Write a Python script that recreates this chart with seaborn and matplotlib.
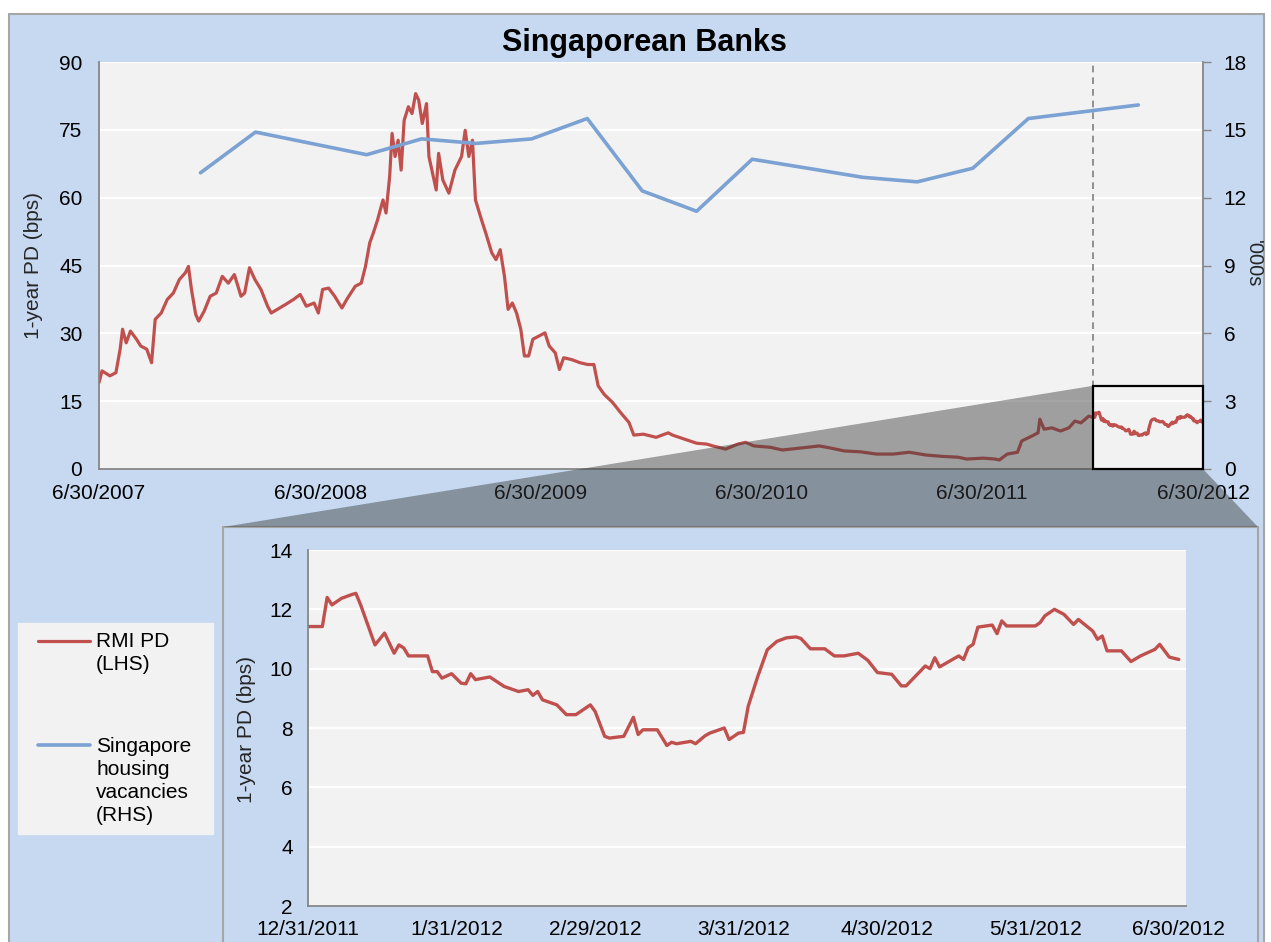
import matplotlib

matplotlib.use("Agg")
import matplotlib.dates as mdates   # noqa: E402
import matplotlib.pyplot as plt     # noqa: E402
import numpy as np                  # noqa: E402
import pandas as pd                 # noqa: E402
import seaborn as sns               # noqa: E402
from matplotlib.legend_handler import HandlerLine2D   # noqa: E402
from matplotlib.patches import Polygon, Rectangle     # noqa: E402

# ---------------------------------------------------------------------------
# Data
# ---------------------------------------------------------------------------

# RMI 1-year PD, bps -- Jun 2007 .. Dec 2011 (main panel)
rmi_dates = [
    "2007-06-30", "2007-07-05", "2007-07-18", "2007-07-28", "2007-08-04", "2007-08-08",
    "2007-08-14", "2007-08-21", "2007-08-31", "2007-09-07", "2007-09-17", "2007-09-25",
    "2007-10-01", "2007-10-11", "2007-10-21", "2007-10-31", "2007-11-10", "2007-11-20",
    "2007-11-25", "2007-11-30", "2007-12-07", "2007-12-12", "2007-12-21", "2007-12-31",
    "2008-01-10", "2008-01-20", "2008-01-30", "2008-02-09", "2008-02-20", "2008-02-26",
    "2008-03-05", "2008-03-14", "2008-03-24", "2008-04-04", "2008-04-10", "2008-04-20",
    "2008-05-04", "2008-05-17", "2008-05-28", "2008-06-07", "2008-06-20", "2008-06-27",
    "2008-07-04", "2008-07-14", "2008-07-24", "2008-08-05", "2008-08-13", "2008-08-27",
    "2008-09-06", "2008-09-13", "2008-09-20", "2008-09-26", "2008-10-03", "2008-10-12",
    "2008-10-17", "2008-10-23", "2008-10-27", "2008-11-01", "2008-11-06", "2008-11-11",
    "2008-11-16", "2008-11-23", "2008-11-29", "2008-12-05", "2008-12-10", "2008-12-16",
    "2008-12-23", "2008-12-27", "2009-01-02", "2009-01-08", "2009-01-12", "2009-01-19",
    "2009-01-29", "2009-02-08", "2009-02-19", "2009-02-25", "2009-03-03", "2009-03-09",
    "2009-03-14", "2009-03-24", "2009-03-31", "2009-04-10", "2009-04-17", "2009-04-24",
    "2009-05-01", "2009-05-07", "2009-05-14", "2009-05-21", "2009-05-28", "2009-06-03",
    "2009-06-10", "2009-06-17", "2009-06-27", "2009-07-07", "2009-07-14", "2009-07-24",
    "2009-07-31", "2009-08-07", "2009-08-20", "2009-09-03", "2009-09-16", "2009-09-26",
    "2009-10-03", "2009-10-13", "2009-10-27", "2009-11-09", "2009-11-23", "2009-12-01",
    "2009-12-17", "2010-01-07", "2010-01-27", "2010-02-03", "2010-02-23", "2010-03-15",
    "2010-04-01", "2010-04-11", "2010-05-02", "2010-05-22", "2010-06-04", "2010-06-18",
    "2010-07-15", "2010-08-04", "2010-08-25", "2010-09-21", "2010-10-04", "2010-10-24",
    "2010-11-14", "2010-12-11", "2011-01-07", "2011-02-03", "2011-03-02", "2011-03-29",
    "2011-04-25", "2011-05-22", "2011-06-05", "2011-07-02", "2011-07-22", "2011-07-29",
    "2011-08-11", "2011-08-28", "2011-09-04", "2011-09-21", "2011-10-01", "2011-10-04",
    "2011-10-11", "2011-10-24", "2011-11-07", "2011-11-21", "2011-12-01", "2011-12-11",
    "2011-12-24",
]
rmi_values = [
    19.1, 21.7, 20.6, 21.3, 26.5, 30.9,
    27.9, 30.5, 28.7, 27.2, 26.5, 23.5,
    33.1, 34.5, 37.5, 38.9, 41.9, 43.4,
    44.8, 39.7, 34.2, 32.7, 34.9, 38.2,
    38.9, 42.6, 41.1, 43.0, 38.2, 38.9,
    44.5, 41.9, 39.7, 36.0, 34.5, 35.3,
    36.4, 37.5, 38.6, 36.0, 36.7, 34.5,
    39.7, 40.0, 38.2, 35.6, 37.5, 40.4,
    41.1, 44.8, 50.0, 52.2, 55.1, 59.5,
    56.6, 64.7, 74.2, 69.1, 72.7, 66.1,
    77.1, 80.1, 78.6, 83.0, 81.6, 76.4,
    80.8, 69.1, 65.4, 61.7, 69.8, 63.9,
    61.0, 66.1, 69.1, 74.9, 69.1, 72.7,
    59.5, 55.1, 52.2, 47.8, 46.3, 48.5,
    42.6, 35.3, 36.7, 34.5, 30.9, 25.0,
    25.0, 28.7, 29.4, 30.1, 27.2, 25.7,
    22.0, 24.6, 24.2, 23.5, 23.1, 23.1,
    18.4, 16.5, 14.7, 12.5, 10.3, 7.5,
    7.7, 7.0, 8.0, 7.5, 6.6, 5.7,
    5.5, 5.1, 4.4, 5.5, 5.9, 5.1,
    4.8, 4.2, 4.5, 4.9, 5.1, 4.6,
    4.0, 3.8, 3.3, 3.3, 3.7, 3.1,
    2.8, 2.6, 2.2, 2.4, 2.2, 2.0,
    3.3, 3.7, 6.2, 7.3, 8.0, 11.0,
    8.8, 9.1, 8.4, 9.1, 10.6, 10.2,
    11.7,
]

# RMI 1-year PD, bps -- Dec 2011 .. Jun 2012 (zoomed panel)
zoom_dates = [
    "2011-12-31", "2012-01-03", "2012-01-04", "2012-01-05", "2012-01-07", "2012-01-09",
    "2012-01-10", "2012-01-11", "2012-01-14", "2012-01-16", "2012-01-18", "2012-01-19",
    "2012-01-20", "2012-01-21", "2012-01-25", "2012-01-26", "2012-01-27", "2012-01-28",
    "2012-01-30", "2012-02-01", "2012-02-02", "2012-02-03", "2012-02-04", "2012-02-07",
    "2012-02-10", "2012-02-13", "2012-02-15", "2012-02-16", "2012-02-17", "2012-02-18",
    "2012-02-21", "2012-02-23", "2012-02-25", "2012-02-28", "2012-02-29", "2012-03-02",
    "2012-03-03", "2012-03-06", "2012-03-08", "2012-03-09", "2012-03-10", "2012-03-13",
    "2012-03-15", "2012-03-16", "2012-03-17", "2012-03-20", "2012-03-21", "2012-03-23",
    "2012-03-24", "2012-03-27", "2012-03-28", "2012-03-30", "2012-03-31", "2012-04-01",
    "2012-04-03", "2012-04-05", "2012-04-07", "2012-04-09", "2012-04-11", "2012-04-12",
    "2012-04-14", "2012-04-17", "2012-04-19", "2012-04-21", "2012-04-24", "2012-04-26",
    "2012-04-28", "2012-05-01", "2012-05-03", "2012-05-04", "2012-05-07", "2012-05-08",
    "2012-05-09", "2012-05-10", "2012-05-11", "2012-05-15", "2012-05-16", "2012-05-17",
    "2012-05-18", "2012-05-19", "2012-05-22", "2012-05-23", "2012-05-24", "2012-05-25",
    "2012-05-31", "2012-06-01", "2012-06-02", "2012-06-04", "2012-06-06", "2012-06-08",
    "2012-06-09", "2012-06-12", "2012-06-13", "2012-06-14", "2012-06-15", "2012-06-18",
    "2012-06-20", "2012-06-22", "2012-06-25", "2012-06-26", "2012-06-28", "2012-06-30",
]
zoom_values = [
    11.42, 11.42, 12.40, 12.15, 12.37, 12.49,
    12.54, 12.15, 10.80, 11.20, 10.52, 10.80,
    10.70, 10.43, 10.43, 9.90, 9.90, 9.68,
    9.83, 9.51, 9.49, 9.83, 9.63, 9.72,
    9.40, 9.23, 9.29, 9.10, 9.23, 8.95,
    8.78, 8.45, 8.45, 8.78, 8.56, 7.72,
    7.66, 7.72, 8.36, 7.78, 7.94, 7.94,
    7.41, 7.52, 7.47, 7.55, 7.47, 7.74,
    7.83, 8.00, 7.61, 7.83, 7.85, 8.73,
    9.74, 10.64, 10.92, 11.04, 11.07, 11.02,
    10.67, 10.67, 10.43, 10.43, 10.52, 10.28,
    9.87, 9.81, 9.42, 9.42, 9.92, 10.09,
    10.00, 10.37, 10.06, 10.43, 10.31, 10.71,
    10.82, 11.40, 11.47, 11.18, 11.61, 11.44,
    11.44, 11.55, 11.78, 12.00, 11.83, 11.49,
    11.66, 11.27, 10.99, 11.10, 10.60, 10.60,
    10.24, 10.43, 10.65, 10.82, 10.39, 10.31,
]

# Singapore housing vacancies, '000s (quarterly)
vac_dates = [
    "2007-12-15", "2008-03-15", "2008-06-15", "2008-09-15", "2008-12-15", "2009-03-15",
    "2009-06-15", "2009-09-15", "2009-12-15", "2010-03-15", "2010-06-15", "2010-09-15",
    "2010-12-15", "2011-03-15", "2011-06-15", "2011-09-15", "2011-12-15", "2012-03-15",
]
vac_values = [
    13.1, 14.9, 14.4, 13.9, 14.6, 14.4,
    14.6, 15.5, 12.3, 11.4, 13.7, 13.3,
    12.9, 12.7, 13.3, 15.5, 15.8, 16.1,
]

MAIN_START, MAIN_END = "2007-06-30", "2012-06-30"
ZOOM_START, ZOOM_END = "2011-12-31", "2012-06-30"
ZOOM_BOX_TOP = 18.4          # height of the zoom box on the LHS scale

# ---------------------------------------------------------------------------
# Style
# ---------------------------------------------------------------------------

W, H, DPI = 1271, 942, 100
RED = "#C0504D"
BLUE = "#7BA2D3"
PANEL = "#C6D9F1"
PLOT_BG = "#F2F2F2"
FRAME = "#A6A6A6"
AXIS = "#868686"
FS = 15
LEGEND_LS = 1.27

sns.set_theme(style="white")
plt.rcParams["font.family"] = ["Liberation Sans", "DejaVu Sans"]
plt.rcParams["text.color"] = "black"
plt.rcParams["xtick.color"] = AXIS
plt.rcParams["ytick.color"] = AXIS
plt.rcParams["xtick.labelcolor"] = "black"
plt.rcParams["ytick.labelcolor"] = "black"


def px_rect(x0, y0, x1, y1):
    """Pixel box (origin top-left) -> figure-fraction [l, b, w, h]."""
    return [x0 / W, 1 - y1 / H, (x1 - x0) / W, (y1 - y0) / H]


def mdy(d):
    return f"{d.month}/{d.day}/{d.year}"


class FirstLineHandler(HandlerLine2D):
    """Legend line aligned with the first line of a multi-line label."""

    def __init__(self, nlines, **kw):
        super().__init__(**kw)
        self.nlines = nlines

    def create_artists(self, legend, orig_handle, xdescent, ydescent,
                       width, height, fontsize, trans):
        arts = super().create_artists(legend, orig_handle, xdescent, ydescent,
                                      width, height, fontsize, trans)
        shift = (self.nlines - 1) / 2 * 1.1 * (LEGEND_LS / 1.2) * fontsize
        for a in arts:
            n = len(a.get_xdata())
            a.set_xdata(np.linspace(width - 2.5 * fontsize, width, n) - xdescent)
            a.set_ydata(np.asarray(a.get_ydata(), dtype=float) + shift)
        return arts


rmi = pd.Series(rmi_values + zoom_values, index=pd.to_datetime(rmi_dates + zoom_dates))
zoom = pd.Series(zoom_values, index=pd.to_datetime(zoom_dates))
vac = pd.Series(vac_values, index=pd.to_datetime(vac_dates))

fig = plt.figure(figsize=(W / DPI, H / DPI), dpi=DPI, facecolor="white")

# blue panel behind the main chart and behind the zoomed chart
fig.add_artist(Rectangle((9 / W, -0.01), (1264 - 9) / W, 1 - 14 / H + 0.01,
                         transform=fig.transFigure, facecolor=PANEL,
                         edgecolor=FRAME, lw=1.5, zorder=-2))
fig.add_artist(Rectangle((223 / W, -0.01), (1258 - 223) / W, (H - 527) / H + 0.01,
                         transform=fig.transFigure, facecolor=PANEL,
                         edgecolor=FRAME, lw=1.5, zorder=-1))

# ---------------------------------------------------------------------------
# Main panel
# ---------------------------------------------------------------------------
ax = fig.add_axes(px_rect(99, 62, 1203, 469))
ax.set_facecolor(PLOT_BG)
sns.lineplot(x=rmi.index, y=rmi.values, ax=ax, color=RED, lw=2.3)
ax.axvline(pd.Timestamp(ZOOM_START), color="#7F7F7F", ls=(0, (4, 3)), lw=1.2)

ax2 = ax.twinx()
sns.lineplot(x=vac.index, y=vac.values, ax=ax2, color=BLUE, lw=2.6)

ax.set_xlim(pd.Timestamp(MAIN_START), pd.Timestamp(MAIN_END))
half_years = pd.date_range(MAIN_START, MAIN_END, freq="6ME")
ax.set_xticks(half_years)
ax.set_xticklabels([mdy(d) if d.month == 6 else "" for d in half_years])
ax.set_ylim(0, 90); ax.set_yticks(range(0, 91, 15))
ax2.set_ylim(0, 18); ax2.set_yticks(range(0, 19, 3))

ax.grid(axis="y", color="white", lw=1.6); ax.grid(axis="x", visible=False)
ax.set_axisbelow(True)
ax.tick_params(axis="x", direction="in", length=6, width=1, labelsize=FS, pad=11)
ax.tick_params(axis="y", length=0, labelsize=FS, pad=12)
ax2.tick_params(axis="y", direction="out", length=6, width=1, labelsize=FS, pad=9)
for s in ("top", "right"):
    ax.spines[s].set_visible(False)
for s in ("top", "left", "bottom"):
    ax2.spines[s].set_visible(False)
for s in ("left", "bottom"):
    ax.spines[s].set_color(AXIS); ax.spines[s].set_linewidth(1.3)
ax2.spines["right"].set_color(AXIS); ax2.spines["right"].set_linewidth(1.3)

ax.set_xlabel("")
ax.set_ylabel("1-year PD (bps)", fontsize=FS, va="center")
ax.yaxis.set_label_coords(-0.0595, 0.5)
ax2.set_ylabel("'000s", fontsize=FS - 0.5, rotation=270, va="center")
ax2.yaxis.set_label_coords(1.0453, 0.505)

fig.text(644 / W, 1 - 51 / H, "Singaporean Banks", ha="center", va="baseline",
         fontsize=22, fontweight="bold")

# ---------------------------------------------------------------------------
# Zoomed panel
# ---------------------------------------------------------------------------
iax = fig.add_axes(px_rect(308, 550, 1186, 906))
iax.set_facecolor(PLOT_BG)
sns.lineplot(x=zoom.index, y=zoom.values, ax=iax, color=RED, lw=2.4)
iax.set_xlim(pd.Timestamp(ZOOM_START), pd.Timestamp(ZOOM_END) + pd.Timedelta(hours=36))
month_ends = pd.date_range(ZOOM_START, ZOOM_END, freq="ME")
iax.set_xticks(month_ends)
iax.set_xticklabels([mdy(d) for d in month_ends])
iax.set_ylim(2, 14); iax.set_yticks(range(2, 15, 2))
iax.grid(axis="y", color="white", lw=1.6); iax.grid(axis="x", visible=False)
iax.set_axisbelow(True)
iax.tick_params(axis="x", direction="in", length=6, width=1, labelsize=FS, pad=10)
iax.tick_params(axis="y", length=0, labelsize=FS, pad=11)
for s in ("top", "right"):
    iax.spines[s].set_visible(False)
for s in ("left", "bottom"):
    iax.spines[s].set_color(AXIS); iax.spines[s].set_linewidth(1.3)
iax.set_xlabel("")
iax.set_ylabel("1-year PD (bps)", fontsize=FS, va="center")
iax.yaxis.set_label_coords(-0.0705, 0.497)

# ---------------------------------------------------------------------------
# Zoom box + projection onto the lower panel
# ---------------------------------------------------------------------------
to_fig = fig.transFigure.inverted()
x_lo = mdates.date2num(pd.Timestamp(ZOOM_START))
x_hi = mdates.date2num(pd.Timestamp(ZOOM_END))
box_tl = to_fig.transform(ax.transData.transform((x_lo, ZOOM_BOX_TOP)))
box_bl = to_fig.transform(ax.transData.transform((x_lo, 0)))
box_br = to_fig.transform(ax.transData.transform((x_hi, 0)))
frame_tl = (223 / W, 1 - 527 / H)
frame_tr = (1258 / W, 1 - 527 / H)
fig.add_artist(Polygon([box_tl, frame_tl, frame_tr, box_br, box_bl], closed=True,
                       transform=fig.transFigure, facecolor="#3A3A3A", alpha=0.45,
                       edgecolor="none", zorder=3))
fig.add_artist(Rectangle(box_bl, box_br[0] - box_bl[0], box_tl[1] - box_bl[1],
                         transform=fig.transFigure, fill=False, edgecolor="black",
                         lw=1.6, zorder=4))

# ---------------------------------------------------------------------------
# Legend
# ---------------------------------------------------------------------------
red_line, blue_line = ax.lines[0], ax2.lines[0]
leg = fig.legend(
    [red_line, blue_line],
    ["RMI PD\n(LHS)", "Singapore\nhousing\nvacancies\n(RHS)"],
    loc="upper left", bbox_to_anchor=(18 / W, 1 - 623 / H, 195 / W, 0), mode="expand",
    borderaxespad=0, borderpad=0.45, handlelength=3.0, handletextpad=0.3,
    labelspacing=3.0, fontsize=FS, frameon=True, fancybox=False, framealpha=1,
    facecolor=PLOT_BG, edgecolor=PLOT_BG,
    handler_map={red_line: FirstLineHandler(2), blue_line: FirstLineHandler(4)},
)
for t in leg.get_texts():
    t.set_linespacing(LEGEND_LS)

fig.savefig("out.png", dpi=DPI, facecolor="white")
plt.close(fig)
